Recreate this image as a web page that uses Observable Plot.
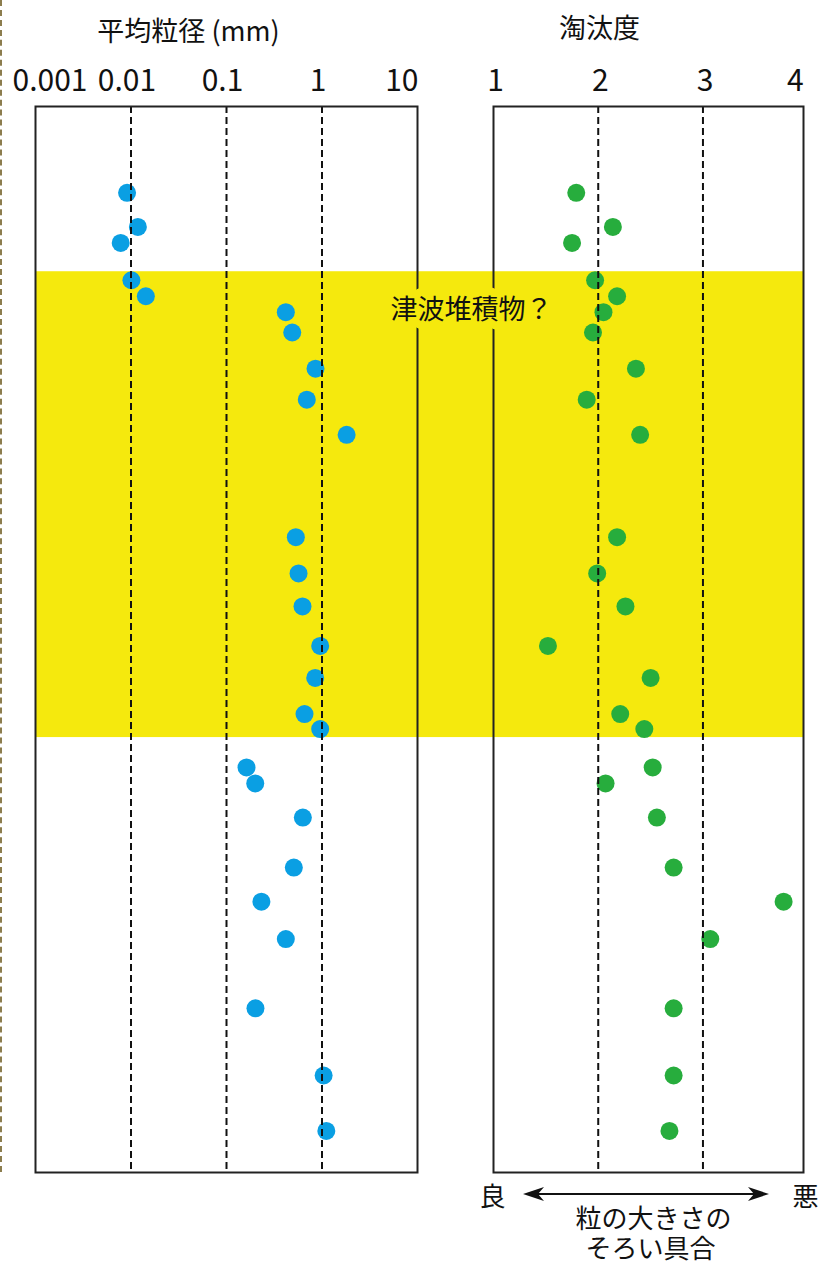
<!DOCTYPE html>
<html>
<head>
<meta charset="utf-8">
<script src="https://cdn.jsdelivr.net/npm/d3@7"></script>
<script src="https://cdn.jsdelivr.net/npm/@observablehq/plot@0.6"></script>
<style>
  body { margin: 0; background: #fff; }
  #chart { position: relative; width: 818px; height: 1264px; overflow: hidden; background: #fff;
           font-family: "Noto Sans CJK JP", sans-serif; }
  #chart > svg.plot-panel { position: absolute; top: 0; }
  #edge { position: absolute; left: 0; top: 0; width: 0; height: 1172px; border-left: 2px dashed #8c7d4e; }
</style>
</head>
<body>
<div id="chart"><div id="edge"></div></div>
<script>
// ---- data (depth: 0 = top of column, 100 = bottom) ----
const depth = [8.1, 11.3, 12.8, 16.3, 17.8, 19.3, 21.2, 24.6, 27.5, 30.8,
               40.4, 43.8, 46.9, 50.6, 53.6, 57.0, 58.4, 62.0, 63.5, 66.7,
               71.4, 74.6, 78.1, 84.6, 90.9, 96.1];
const meanGrainSize = [0.0091, 0.0118, 0.0078, 0.0101, 0.0143, 0.418, 0.488, 0.855, 0.693, 1.81,
                       0.532, 0.568, 0.625, 0.957, 0.849, 0.656, 0.957, 0.162, 0.200, 0.630,
                       0.507, 0.232, 0.418, 0.201, 1.04, 1.11];
const sorting = [1.79, 2.14, 1.75, 1.97, 2.18, 2.05, 1.95, 2.36, 1.89, 2.40,
                 2.18, 1.99, 2.26, 1.52, 2.50, 2.21, 2.44, 2.52, 2.07, 2.56,
                 2.72, 3.77, 3.07, 2.72, 2.72, 2.68];
const tsunamiLayer = [{top: 15.5, bottom: 59.2, label: "津波堆積物？"}];

const sizeTicks = [0.001, 0.01, 0.1, 1, 10];
const sizeTickLabels = ["0.001", "0.01", "0.1", "1", "10"];
const sizeGrid = [0.01, 0.1, 1];
const sortTicks = [1, 2, 3, 4];
const sortTickLabels = ["1", "2", "3", "4"];
const sortGrid = [2, 3];

const titles = ["平均粒径 (mm)", "淘汰度"];
const scaleEnds = ["良", "悪"];
const scaleNote = ["粒の大きさの", "そろい具合"];

// ---- styles ----
const FONT = "Noto Sans CJK JP";
const BLUE = "#0a9fe3", GREEN = "#27ad3d", YELLOW = "#f5e90d";
const H = 1264, MT = 106, MB = 92;
const yScale = {domain: [0, 100], reverse: true, axis: null};
const svgStyle = {background: "transparent", overflow: "visible", fontFamily: FONT};
const samples = depth.map((d, i) => ({depth: d, size: meanGrainSize[i], sorting: sorting[i]}));
const chart = document.getElementById("chart");

function place(svg, x) {
  svg.classList.add("plot-panel");
  svg.style.position = "absolute";
  svg.style.top = "0px";
  svg.style.left = x + "px";
  chart.appendChild(svg);
}

// background band spanning both panels
const bg = Plot.plot({
  width: 818, height: H, marginTop: MT, marginBottom: MB, marginLeft: 35, marginRight: 15,
  x: {axis: null}, y: yScale, style: svgStyle,
  marks: [Plot.rect(tsunamiLayer, {y1: "top", y2: "bottom", fill: YELLOW})]
});
place(bg, 0);

// left panel: mean grain size (log)
const tickText = {frameAnchor: "top", lineAnchor: "bottom", dy: -16, fontSize: 30, fontFamily: FONT, fill: "#111"};
const left = Plot.plot({
  width: 460, height: H, marginTop: MT, marginBottom: MB, marginLeft: 35, marginRight: 43,
  x: {type: "log", domain: [0.001, 10], axis: null}, y: yScale, style: svgStyle,
  marks: [
    Plot.dot(samples, {x: "size", y: "depth", r: 9, fill: BLUE}),
    Plot.ruleX(sizeGrid, {stroke: "#111", strokeWidth: 2, strokeDasharray: "7,4"}),
    Plot.frame({stroke: "#222", strokeWidth: 2}),
    Plot.text([0], {...tickText, x: i => sizeTicks[i], text: i => sizeTickLabels[i], textAnchor: "start", dx: -23}),
    Plot.text([1, 2, 3], {...tickText, x: i => sizeTicks[i], text: i => sizeTickLabels[i], dx: -4}),
    Plot.text([4], {...tickText, x: i => sizeTicks[i], text: i => sizeTickLabels[i], textAnchor: "end", dx: 1}),
    Plot.text([titles[0]], {frameAnchor: "top", lineAnchor: "bottom", dx: -38, dy: -66,
      fontSize: 27, fontFamily: FONT, fill: "#111"})
  ]
});
place(left, 0);

// right panel: sorting
const noteText = {frameAnchor: "bottom", lineAnchor: "bottom", fontSize: 26, fontFamily: FONT, fill: "#111"};
const right = Plot.plot({
  width: 458, height: H, marginTop: MT, marginBottom: MB, marginLeft: 133, marginRight: 15,
  x: {domain: [1, 3.96], axis: null}, y: yScale, style: svgStyle,
  marks: [
    Plot.dot(samples, {x: "sorting", y: "depth", r: 9, fill: GREEN}),
    Plot.ruleX(sortGrid, {stroke: "#111", strokeWidth: 2, strokeDasharray: "7,4"}),
    Plot.frame({stroke: "#222", strokeWidth: 2}),
    Plot.text([0, 1, 2], {...tickText, x: i => sortTicks[i], text: i => sortTickLabels[i], dx: 2}),
    Plot.text([3], {...tickText, x: i => sortTicks[i], text: i => sortTickLabels[i], textAnchor: "end", dx: -4}),
    Plot.text([titles[1]], {frameAnchor: "top", lineAnchor: "bottom", dx: -49, dy: -69,
      fontSize: 27, fontFamily: FONT, fill: "#111"}),
    Plot.text(tsunamiLayer, {y: "top", text: "label", frameAnchor: "left", textAnchor: "middle",
      lineAnchor: "middle", dx: -22, dy: 39,
      fontSize: 27, fontFamily: FONT, fill: "#111", stroke: YELLOW, strokeWidth: 16, strokeLinejoin: "round"}),
    Plot.text([scaleEnds[0]], {frameAnchor: "bottom-left", lineAnchor: "bottom", dx: -1, dy: 33,
      textAnchor: "middle", fontSize: 26, fontFamily: FONT, fill: "#111"}),
    Plot.text([scaleEnds[1]], {frameAnchor: "bottom-right", lineAnchor: "bottom", dx: 2, dy: 33,
      textAnchor: "middle", fontSize: 26, fontFamily: FONT, fill: "#111"}),
    Plot.text([scaleNote[0]], {...noteText, dx: 5, dy: 55}),
    Plot.text([scaleNote[1]], {...noteText, dx: 2, dy: 85})
  ]
});
place(right, 360);

// double-headed arrow for the caption
const ns = "http://www.w3.org/2000/svg";
const arrow = document.createElementNS(ns, "svg");
arrow.setAttribute("width", "246");
arrow.setAttribute("height", "16");
arrow.style.position = "absolute";
arrow.style.left = "523px";
arrow.style.top = "1186px";
arrow.innerHTML = '<line x1="10" y1="8" x2="236" y2="8" stroke="#111" stroke-width="2"/>' +
  '<path d="M0,8 L21,1 L15,8 L21,15 Z" fill="#111"/>' +
  '<path d="M246,8 L225,1 L231,8 L225,15 Z" fill="#111"/>';
chart.appendChild(arrow);
</script>
</body>
</html>
